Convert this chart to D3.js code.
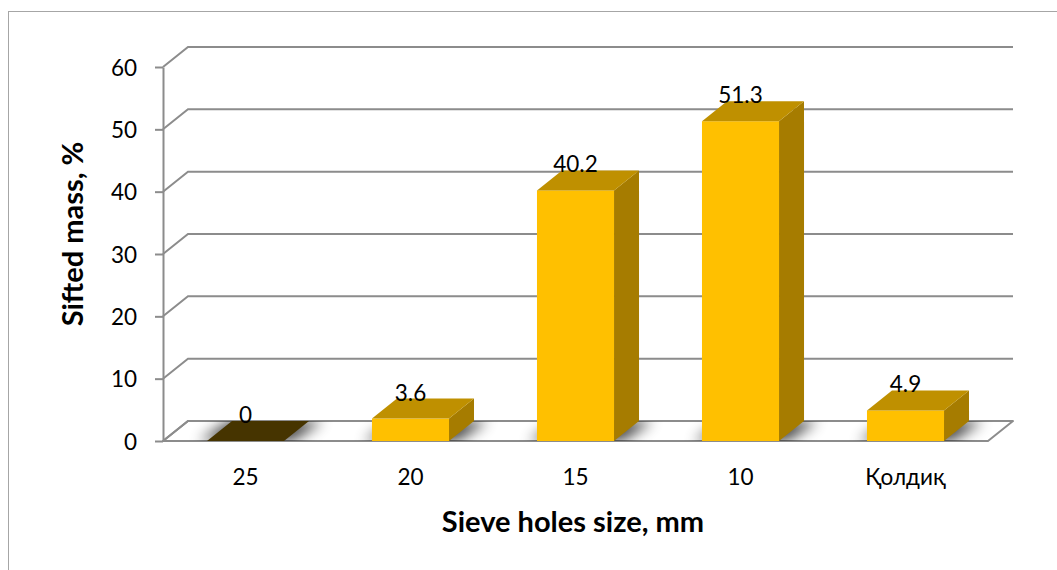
<!DOCTYPE html>
<html>
<head>
<meta charset="utf-8">
<script src="https://cdn.jsdelivr.net/npm/d3@7/dist/d3.min.js"></script>
<style>
  html, body { margin: 0; padding: 0; background: #fff; }
  svg { display: block; }
  text { font-family: Lato, "Open Sans", sans-serif; fill: #000; }
</style>
</head>
<body>
<svg id="chart" width="1057" height="570"></svg>
<script>
// Sieve analysis: share of mass passing each sieve
const categories = ["25", "20", "15", "10", "Қолдиқ"];
const values = [0, 3.6, 40.2, 51.3, 4.9];
const yTicks = [0, 10, 20, 30, 40, 50, 60];
const xTitle = "Sieve holes size, mm";
const yTitle = "Sifted mass, %";

const W = 1057, H = 570;
const svg = d3.select("#chart");

// 3-D depth offset of the back wall
const depthX = 25, depthY = -20;

const x = d3.scaleBand()
  .domain(categories)
  .range([163, 988])
  .paddingInner(0.533)
  .paddingOuter(0.2665);

const y = d3.scaleLinear().domain([0, 60]).range([441, 67]);

const colFront = "#ffc000", colTop = "#bf9000", colSide = "#a67c00", colZeroTop = "#463400";
const gridCol = "#8c8c8c";
const labelSize = 22.5;

// outer chart border
svg.append("rect")
  .attr("x", 8.5).attr("y", 11.5)
  .attr("width", W + 20).attr("height", H + 20)
  .attr("fill", "none").attr("stroke", "#a6a6a6").attr("stroke-width", 1);

const x0 = x.range()[0], x1 = x.range()[1];

// floor
const floorPts = [[x0, y(0)], [x1, y(0)], [x1 + depthX, y(0) + depthY], [x0 + depthX, y(0) + depthY]];
const defs = svg.append("defs");
defs.append("clipPath").attr("id", "floorClip")
  .append("polygon").attr("points", floorPts.map(p => p.join(",")).join(" "));
defs.append("filter").attr("id", "soft").attr("x", "-50%").attr("y", "-50%").attr("width", "200%").attr("height", "200%")
  .append("feGaussianBlur").attr("stdDeviation", 7);

svg.append("polygon")
  .attr("points", floorPts.map(p => p.join(",")).join(" "))
  .attr("fill", "#fff").attr("stroke", gridCol).attr("stroke-width", 2)
  .attr("stroke-linejoin", "round");

// back-wall gridlines with their diagonal links to the value axis
const grid = svg.append("g");
yTicks.forEach(t => {
  const yy = y(t);
  grid.append("polyline")
    .attr("points", `${x0},${yy} ${x0 + depthX},${yy + depthY} ${x1 + depthX},${yy + depthY}`)
    .attr("fill", "none").attr("stroke", gridCol).attr("stroke-width", 2);
});

// soft shadows cast on the floor around each bar
const shadows = svg.append("g").attr("clip-path", "url(#floorClip)");
categories.forEach((c, i) => {
  const bx = x(c), bw = x.bandwidth();
  const pts = [[bx - 8, y(0)], [bx + bw + 8, y(0)], [bx + bw + depthX + 14, y(0) + depthY], [bx + depthX - 2, y(0) + depthY]];
  shadows.append("polygon")
    .attr("points", pts.map(p => p.join(",")).join(" "))
    .attr("fill", "#000").attr("opacity", 0.75)
    .attr("filter", "url(#soft)");
});

// value axis
const yAxis = d3.axisLeft(y).tickValues(yTicks).tickSize(8).tickSizeOuter(0).tickPadding(18);
const ay = svg.append("g").attr("transform", `translate(${x0},0)`).call(yAxis);
ay.select(".domain").attr("stroke", gridCol).attr("stroke-width", 2);
ay.selectAll(".tick line").attr("stroke", gridCol).attr("stroke-width", 2);
ay.selectAll(".tick text").attr("font-size", labelSize).attr("font-family", "Lato, sans-serif").attr("fill", "#000").attr("dy", "0.36em");

// 3-D columns
const bars = svg.append("g");
categories.forEach((c, i) => {
  const v = values[i];
  const bx = x(c), bw = x.bandwidth();
  const yt = y(v), yb = y(0);
  const g = bars.append("g");
  if (v > 0) {
    // side face
    g.append("polygon")
      .attr("points", `${bx + bw},${yb} ${bx + bw + depthX},${yb + depthY} ${bx + bw + depthX},${yt + depthY} ${bx + bw},${yt}`)
      .attr("fill", colSide);
    // front face
    g.append("rect").attr("x", bx).attr("y", yt).attr("width", bw).attr("height", yb - yt).attr("fill", colFront);
  }
  // top face
  g.append("polygon")
    .attr("points", `${bx},${yt} ${bx + bw},${yt} ${bx + bw + depthX},${yt + depthY} ${bx + depthX},${yt + depthY}`)
    .attr("fill", v > 0 ? colTop : colZeroTop);
});

// data labels
svg.append("g").selectAll("text").data(categories).join("text")
  .attr("x", c => x(c) + x.bandwidth() / 2)
  .attr("y", (c, i) => y(values[i]) - 18)
  .attr("text-anchor", "middle")
  .attr("font-size", labelSize)
  .text((c, i) => String(values[i]));

// category labels
svg.append("g").selectAll("text").data(categories).join("text")
  .attr("x", c => x(c) + x.bandwidth() / 2)
  .attr("y", 485)
  .attr("text-anchor", "middle")
  .attr("font-size", labelSize)
  .text(c => c);

// axis titles
svg.append("text")
  .attr("x", 573).attr("y", 532)
  .attr("text-anchor", "middle")
  .attr("font-size", 29).attr("font-weight", "bold")
  .text(xTitle);

svg.append("text")
  .attr("transform", "translate(83,234) rotate(-90)")
  .attr("text-anchor", "middle")
  .attr("font-size", 29).attr("font-weight", "bold")
  .text(yTitle);
</script>
</body>
</html>
